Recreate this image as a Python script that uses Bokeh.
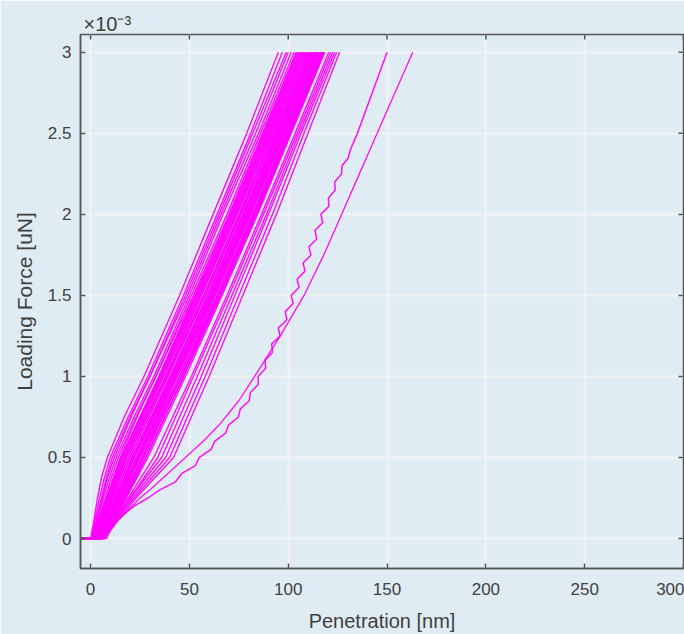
from bokeh.plotting import figure
from bokeh.models import Range1d, FixedTicker, Title
from bokeh.embed import file_html
from bokeh.resources import INLINE

# Loading force levels (x 1e-3 uN); first entry is the approach start before contact
force_levels = [0.0, 0.0, 0.1, 0.25, 0.375, 0.5, 0.75, 1.0, 1.5, 2.0, 2.5, 3.0]

# Penetration (nm) of each indentation curve at the force levels above
bundle_pen = [
    [-5, 0, 1.5, 3.5, 5.5, 8.5, 17, 27, 45, 62, 79, 95],
    [-5, 0.5, 2, 4.5, 7, 10, 19, 29, 47, 64, 81, 97],
    [-4, 1, 3, 6, 8.5, 12, 20.5, 30, 48, 65, 82, 99],
    [-5, 0.5, 2.5, 5.5, 8, 11, 20, 30, 49, 66, 83.5, 100],
    [-5, 1, 3, 6.5, 9.5, 13, 22, 32, 50, 67, 85, 101.5],
    [-4, 1.5, 4, 8, 11.5, 15, 23.5, 33, 51, 69, 86, 103],
    [-5, 1, 3.5, 7.5, 10.5, 14, 23, 33, 52, 70, 87, 104],
    [-5, 2, 4.5, 9, 12.5, 16, 25, 34.5, 52.5, 70.5, 87.5, 104.5],
    [-5, 2, 4.5, 9, 12.5, 16, 25.5, 35, 53, 71, 88, 105],
    [-4.5, 1.5, 4, 8.5, 12, 15.5, 25, 35, 53.5, 71.5, 88.5, 105.5],
    [-5, 1.5, 4, 8.5, 12, 16, 25.5, 35, 54, 72, 89, 106],
    [-5, 2.5, 5, 9.5, 13, 17, 26, 35.5, 54.5, 72.5, 89.5, 106.5],
    [-5, 2, 5, 10, 13.5, 17, 26.5, 36, 55, 73, 90, 107],
    [-4, 2, 5, 10, 14, 17.5, 27, 36.5, 55.5, 73.5, 90.5, 107.5],
    [-5, 2.5, 5.5, 10.5, 14.5, 18, 27.5, 37, 56, 74, 91, 108],
    [-5, 2, 5, 10, 14, 18, 28, 38, 56, 74, 91.5, 108.5],
    [-5, 3, 6, 11, 15, 19, 28.5, 38, 57, 75, 92, 109],
    [-4.5, 2.5, 5.5, 11, 15, 19, 28.5, 38.5, 57.5, 75.5, 92.5, 109.5],
    [-5, 2.5, 6, 11.5, 16, 20, 29.5, 39, 58, 76, 93, 110],
    [-5, 3, 6.5, 12, 16, 20, 29.5, 39, 58, 76, 93.5, 110.5],
    [-5, 3, 7, 13, 17, 21, 30.5, 40, 59, 77, 94, 111],
    [-5, 3.5, 7, 12.5, 17, 21, 31, 41, 59, 77, 94.5, 111.5],
    [-4, 3, 7, 13, 17, 21.5, 31, 40.5, 59.5, 77.5, 94.8, 111.8],
    [-5, 3, 7, 13, 17.5, 22, 31.5, 41, 60, 78, 95, 112],
    [-5, 3.5, 7.5, 13.5, 18, 22, 32, 41.5, 60.5, 78.5, 95.5, 112.5],
    [-5, 4, 8, 14, 18, 22, 32, 42, 61, 79, 96, 113],
    [-4.5, 3.5, 7.5, 14, 18.5, 23, 32.5, 42, 61, 79, 96.5, 113.5],
    [-5, 4, 8, 14.5, 19, 23.5, 33, 42.5, 61.5, 79.5, 96.8, 113.8],
    [-5, 4, 8, 15, 19.5, 24, 33.5, 43, 62, 80, 97, 114],
    [-5, 4, 8.5, 15, 19.5, 24, 33.5, 43, 62, 80, 97.5, 114.5],
    [-4, 4.5, 8.5, 15, 20, 24.5, 34, 43.5, 62.5, 80.5, 97.8, 114.8],
    [-5, 4.5, 9, 15.5, 20, 25, 34.5, 44, 63, 81, 98, 115],
    [-5, 4, 8.5, 15, 20, 25, 35, 45, 63, 81, 98.5, 115.5],
    [-5, 5, 9.5, 16, 21, 26, 35.5, 45, 64, 82, 99, 116],
    [-4.5, 4.5, 9, 16, 21, 26, 36, 46, 64, 82, 99.5, 116.5],
    [-5, 5, 9.5, 16.5, 21.5, 26.5, 36, 46, 64.5, 82.5, 99.8, 116.8],
    [-5, 5, 10, 17, 22, 27, 36.5, 46, 65, 83, 100, 117],
    [-5, 5, 10, 17, 22.5, 28, 37.5, 47, 65, 83, 100.5, 117.5],
    [-4, 5.5, 10, 17.5, 23, 28, 37.5, 47, 65.5, 83.5, 100.8, 117.8],
    [-5, 5.5, 10.5, 18, 23, 28, 37.5, 47, 66, 84, 101, 118],
    [-5, 5, 10, 18, 23.5, 29, 38.5, 48, 66.5, 84.5, 101.5, 118.5],
    [-5, 5.5, 11, 19, 25.5, 32, 41.5, 51, 69, 86.5, 103.5, 120.5],
    [-4.5, 6, 11, 20, 27, 34, 43, 52, 70, 87.5, 104.5, 121.5],
    [-5, 6, 11.5, 20, 28, 36, 45, 54, 71.5, 89, 105.5, 122.5],
    [-5, 6.5, 12, 21, 29.5, 38, 47, 56, 73, 90, 106.5, 123.5],
    [-5, 6, 12, 22, 31, 40, 49, 58, 75, 92, 108, 124.5],
    [-4, 7, 13, 23, 32.5, 42, 51, 60, 77, 94, 110, 126],
]

# Softer sample, smooth trace
soft_force = [0, 0, 0.05, 0.1, 0.15, 0.2, 0.25, 0.3, 0.4, 0.5, 0.6, 0.7, 0.85,
              1.0, 1.25, 1.5, 1.75, 2.0, 2.25, 2.5, 2.75, 3.0]
soft_pen = [-5, 5, 9, 13, 17, 21, 25, 30, 39, 48, 57, 65, 75,
            83, 96, 108, 118, 127, 136, 145, 154, 163]

# Softer sample, jagged trace
jag_force = [0, 0, 0.05, 0.1, 0.15, 0.2, 0.25, 0.3, 0.35, 0.4, 0.45, 0.5, 0.55, 0.6,
             0.65, 0.7, 0.75, 0.8, 0.85, 0.9, 0.95, 1.0, 1.05, 1.1, 1.15, 1.2, 1.25,
             1.3, 1.35, 1.4, 1.45, 1.5, 1.55, 1.6, 1.65, 1.7, 1.75, 1.8, 1.85, 1.9,
             1.95, 2.0, 2.05, 2.1, 2.15, 2.2, 2.25, 2.3, 2.35, 2.4, 2.5, 2.6, 2.7,
             2.8, 2.9, 3.0]
jag_pen = [-5, 8, 10, 13, 17, 22, 29, 35, 43, 46, 53, 55, 61, 62.8,
           68.3, 69.8, 74.8, 75.8, 80.3, 80.8, 84.8, 84.8, 88.6, 88.3, 92.1, 91.6, 95.8,
           95, 99.3, 98.5, 102.5, 101.5, 105.5, 104.5, 108.5, 107.5, 111.5, 110.5, 114.5, 113.5,
           117.5, 116.5, 120.6, 120.3, 123.8, 123.5, 127, 127.2, 130.4, 131.5, 135, 138, 141,
           144, 147, 150]

x_ticks = [0, 50, 100, 150, 200, 250, 300]
y_ticks = [0, 0.5, 1, 1.5, 2, 2.5, 3]

X_MIN, X_MAX = -5.1, 300
Y_MIN, Y_MAX = -0.185, 3.11

BG = "#e0ecf3"
INK = "#404040"
AXC = "#555555"
MAG = "#ff00ff"
FONT = "Liberation Sans"

p = figure(width=684, height=634, output_backend="svg", toolbar_location=None,
           x_range=Range1d(X_MIN, X_MAX), y_range=Range1d(Y_MIN, Y_MAX),
           min_border_left=80, min_border_right=1, min_border_top=34, min_border_bottom=66,
           background_fill_color=BG, border_fill_color=BG)
p.outline_line_color = AXC
p.outline_line_width = 1.5

p.xaxis.ticker = FixedTicker(ticks=x_ticks)
p.yaxis.ticker = FixedTicker(ticks=y_ticks)
p.yaxis.major_label_overrides = {0: "0", 0.5: "0.5", 1: "1", 1.5: "1.5", 2: "2", 2.5: "2.5", 3: "3"}

for ax in (p.xaxis[0], p.yaxis[0]):
    ax.axis_line_color = AXC
    ax.axis_line_width = 1.5
    ax.major_tick_line_color = AXC
    ax.major_tick_line_width = 1.5
    ax.major_tick_in = 5
    ax.major_tick_out = 0
    ax.minor_tick_line_color = None
    ax.major_label_text_font = FONT
    ax.major_label_text_font_size = "17px"
    ax.major_label_text_color = INK
    ax.axis_label_text_font = FONT
    ax.axis_label_text_font_style = "normal"
    ax.axis_label_text_color = INK

p.xaxis.axis_label = "Penetration [nm]"
p.xaxis.axis_label_text_font_size = "20px"
p.xaxis.major_label_standoff = 14
p.xaxis.axis_label_standoff = 12
p.yaxis.axis_label = "Loading Force [uN]"
p.yaxis.axis_label_text_font_size = "21px"
p.yaxis.major_label_standoff = 9
p.yaxis.axis_label_standoff = 9

p.xgrid.grid_line_color = "#f3f3f3"
p.ygrid.grid_line_color = "#f3f3f3"
p.xgrid.grid_line_width = 2
p.ygrid.grid_line_width = 2

# inward tick marks along the top and right edges of the box
tick_dy = 5 * (Y_MAX - Y_MIN) / 534
tick_dx = 5 * (X_MAX - X_MIN) / 603
p.segment(x0=x_ticks, y0=[Y_MAX] * len(x_ticks), x1=x_ticks, y1=[Y_MAX - tick_dy] * len(x_ticks),
          line_color=AXC, line_width=1.5)
p.segment(x0=[X_MAX] * len(y_ticks), y0=y_ticks, x1=[X_MAX - tick_dx] * len(y_ticks), y1=y_ticks,
          line_color=AXC, line_width=1.5)

p.multi_line(xs=bundle_pen, ys=[force_levels] * len(bundle_pen),
             line_color=MAG, line_width=1.4, line_alpha=0.95)
p.line(soft_pen, soft_force, line_color=MAG, line_width=1.3, line_alpha=0.95)
p.line(jag_pen, jag_force, line_color=MAG, line_width=1.5, line_alpha=0.95)

# exponent marker above the force axis
p.add_layout(Title(text="×10⁻³", align="left", offset=3, standoff=0,
                   text_font=FONT, text_font_size="20px", text_font_style="normal",
                   text_color=INK), "above")

open("out.html", "w").write(file_html(p, INLINE))
